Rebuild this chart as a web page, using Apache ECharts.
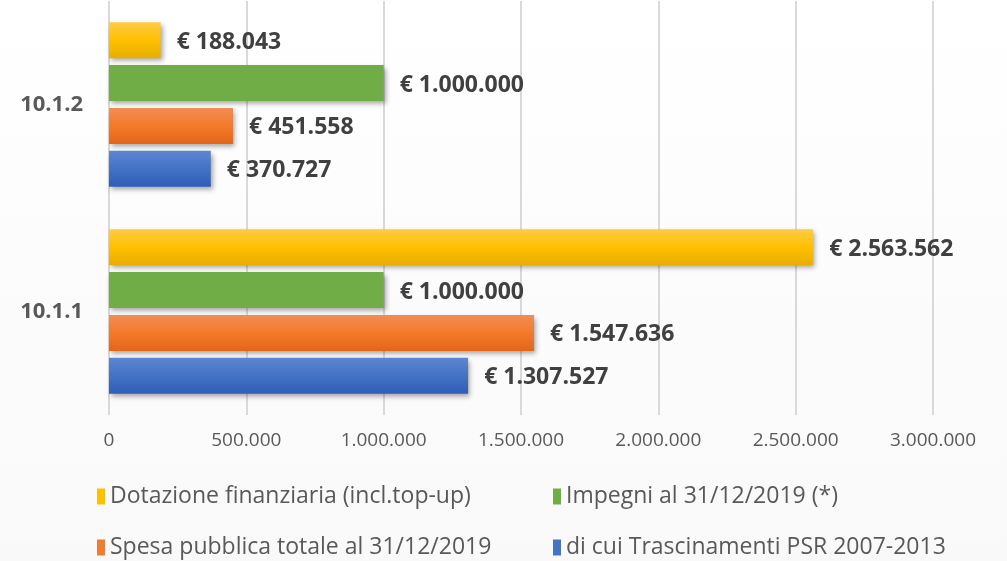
<!DOCTYPE html>
<html>
<head>
<meta charset="utf-8">
<script src="https://cdn.jsdelivr.net/npm/echarts@6/dist/echarts.min.js"></script>
<style>
  html, body { margin: 0; padding: 0; background: #fff; }
  #chart { width: 1007px; height: 561px; }
</style>
</head>
<body>
<div id="chart"></div>
<script>
var categories = ['10.1.1', '10.1.2']
var seriesNames = [
  'Dotazione finanziaria (incl.top-up)',
  'Impegni al 31/12/2019 (*)',
  'Spesa pubblica totale al 31/12/2019',
  'di cui Trascinamenti PSR 2007-2013'
]
var dotazione = [2563562, 188043]
var impegni = [1000000, 1000000]
var spesa = [1547636, 451558]
var trascinamenti = [1307527, 370727]

function grad (top, mid, bottom) {
  return new echarts.graphic.LinearGradient(0, 0, 0, 1, [
    { offset: 0, color: top },
    { offset: 0.5, color: mid },
    { offset: 1, color: bottom }
  ])
}

function fmtNum (v) {
  return String(v).replace(/\B(?=(\d{3})+(?!\d))/g, '.')
}

var colors = [
  grad('#ffcb45', '#ffc000', '#e8ae00'),
  grad('#70ad47', '#70ad47', '#70ad47'),
  grad('#f28c55', '#f47a2a', '#e2661a'),
  grad('#5d86d2', '#4472c4', '#2f5db8')
]
var legendColors = ['#ffc000', '#70ad47', '#ed7d31', '#4472c4']

function makeSeries (name, data, i) {
  return {
    name: name,
    type: 'bar',
    data: data,
    barWidth: 36,
    barGap: '19%',
    itemStyle: {
      color: colors[i],
      shadowColor: 'rgba(0,0,0,0.35)',
      shadowBlur: 5,
      shadowOffsetX: 2,
      shadowOffsetY: 3
    },
    label: {
      show: true,
      position: 'right',
      distance: 16,
      offset: [0, 2],
      color: '#404040',
      fontFamily: 'Open Sans',
      fontWeight: 'bold',
      fontSize: 23,
      formatter: function (p) { return '€ ' + fmtNum(p.value) }
    }
  }
}

var legendPos = [
  { left: 92, top: 480 },
  { left: 548, top: 480 },
  { left: 92, top: 531 },
  { left: 548, top: 531 }
]

var chart = echarts.init(document.getElementById('chart'))
chart.setOption({
  backgroundColor: new echarts.graphic.LinearGradient(0, 0, 0, 1, [
    { offset: 0, color: '#ffffff' },
    { offset: 1, color: '#f9f9f9' }
  ]),
  animation: false,
  grid: { left: 109, right: 74, top: 1, bottom: 146 },
  legend: seriesNames.map(function (n, i) {
    return {
      data: [{ name: n, itemStyle: { color: legendColors[i] } }],
      left: legendPos[i].left,
      top: legendPos[i].top,
      icon: 'rect',
      itemWidth: 8,
      itemHeight: 16,
      itemGap: 4,
      textStyle: { color: '#595959', fontFamily: 'Open Sans', fontSize: 23 }
    }
  }),
  xAxis: {
    type: 'value',
    min: 0,
    max: 3000000,
    interval: 500000,
    axisLine: { show: false },
    axisTick: { show: false },
    splitLine: { lineStyle: { color: '#d9d9d9', width: 2 } },
    axisLabel: {
      color: '#595959',
      fontFamily: 'Open Sans',
      fontSize: 19,
      margin: 16,
      formatter: fmtNum
    }
  },
  yAxis: {
    type: 'category',
    data: categories,
    axisLine: { show: false },
    axisTick: { show: false },
    axisLabel: {
      color: '#595959',
      fontFamily: 'Open Sans',
      fontWeight: 'bold',
      fontSize: 22,
      margin: 26
    }
  },
  series: [
    makeSeries(seriesNames[0], dotazione, 0),
    makeSeries(seriesNames[1], impegni, 1),
    makeSeries(seriesNames[2], spesa, 2),
    makeSeries(seriesNames[3], trascinamenti, 3)
  ]
})
</script>
</body>
</html>
